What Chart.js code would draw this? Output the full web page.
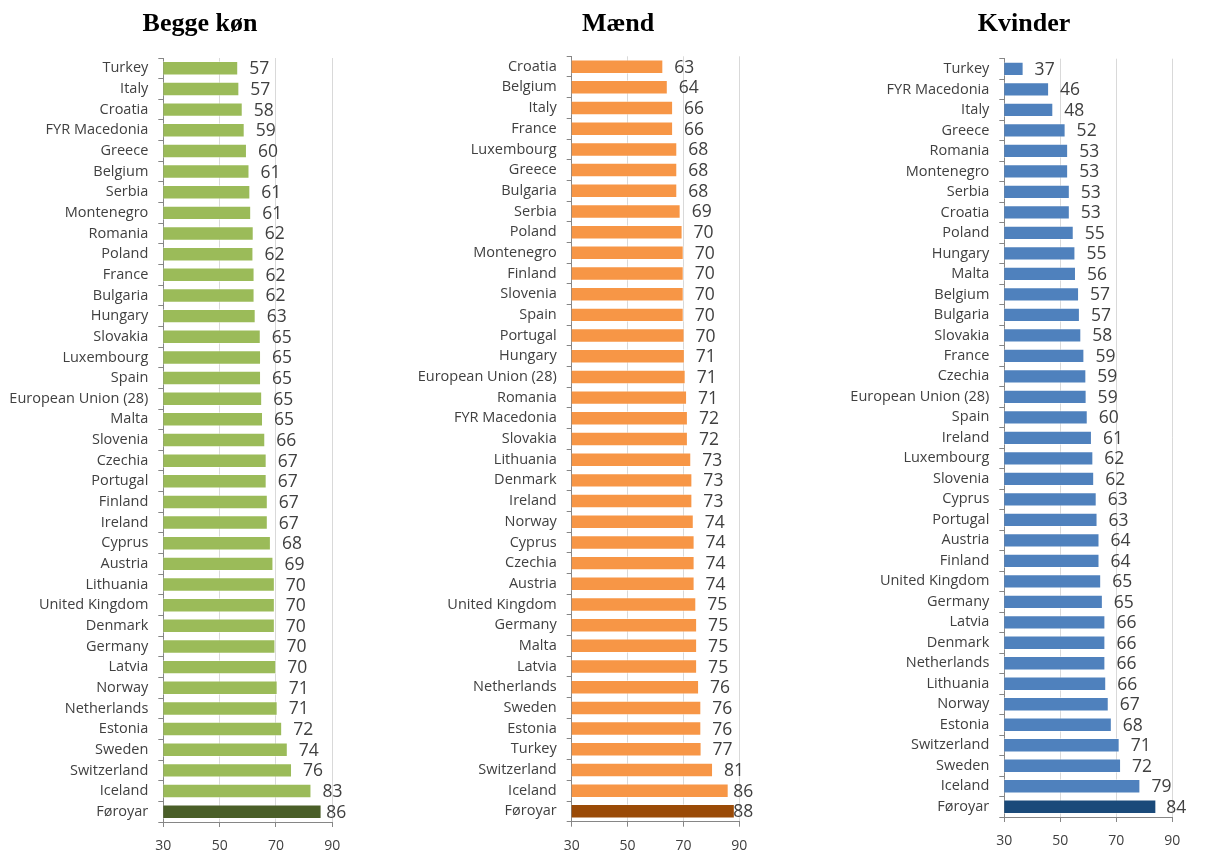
<!DOCTYPE html>
<html>
<head>
<meta charset="utf-8">
<script src="https://cdn.jsdelivr.net/npm/chart.js@4.4.1/dist/chart.umd.min.js"></script>
<style>
  body { margin: 0; background: #fff; }
  .panel { position: absolute; top: 0; height: 866px; }
  .title { position: absolute; top: 8px; width: 300px; line-height: 30px; text-align: center;
           font-family: "Liberation Serif", serif; font-weight: bold; font-size: 26px; color: #000; }
</style>
</head>
<body>
<div class="panel" style="left:0;width:400px"><canvas id="c1"></canvas></div>
<div class="panel" style="left:418px;width:400px"><canvas id="c2"></canvas></div>
<div class="panel" style="left:840px;width:368px"><canvas id="c3"></canvas></div>
<div class="title" style="left:50px">Begge køn</div>
<div class="title" style="left:468px">Mænd</div>
<div class="title" style="left:874px">Kvinder</div>
<script>
// Begge køn
const bothLabels = ["Turkey","Italy","Croatia","FYR Macedonia","Greece","Belgium","Serbia","Montenegro","Romania","Poland","France","Bulgaria","Hungary","Slovakia","Luxembourg","Spain","European Union (28)","Malta","Slovenia","Czechia","Portugal","Finland","Ireland","Cyprus","Austria","Lithuania","United Kingdom","Denmark","Germany","Latvia","Norway","Netherlands","Estonia","Sweden","Switzerland","Iceland","Føroyar"];
const bothValues = [56.6,57.0,58.2,58.9,59.7,60.6,60.9,61.2,62.1,62.0,62.4,62.4,62.8,64.6,64.7,64.7,65.1,65.4,66.2,66.7,66.7,67.1,67.1,68.2,69.1,69.6,69.6,69.6,69.8,70.1,70.6,70.6,72.2,74.2,75.7,82.6,86.2];

// Mænd
const menLabels = ["Croatia","Belgium","Italy","France","Luxembourg","Greece","Bulgaria","Serbia","Poland","Montenegro","Finland","Slovenia","Spain","Portugal","Hungary","European Union (28)","Romania","FYR Macedonia","Slovakia","Lithuania","Denmark","Ireland","Norway","Cyprus","Czechia","Austria","United Kingdom","Germany","Malta","Latvia","Netherlands","Sweden","Estonia","Turkey","Switzerland","Iceland","Føroyar"];
const menValues = [62.8,64.4,66.3,66.3,67.8,67.8,67.8,69.0,69.7,70.1,70.1,70.1,70.1,70.4,70.5,70.8,71.3,71.6,71.6,72.8,73.2,73.2,73.7,74.0,74.0,74.0,74.6,74.9,74.9,74.9,75.6,76.4,76.4,76.5,80.6,86.2,88.4];

// Kvinder
const womenLabels = ["Turkey","FYR Macedonia","Italy","Greece","Romania","Montenegro","Serbia","Croatia","Poland","Hungary","Malta","Belgium","Bulgaria","Slovakia","France","Czechia","European Union (28)","Spain","Ireland","Luxembourg","Slovenia","Cyprus","Portugal","Austria","Finland","United Kingdom","Germany","Latvia","Denmark","Netherlands","Lithuania","Norway","Estonia","Switzerland","Sweden","Iceland","Føroyar"];
const womenValues = [36.9,46.0,47.5,51.9,52.8,52.8,53.4,53.4,54.8,55.4,55.6,56.7,57.0,57.5,58.6,59.3,59.4,59.8,61.3,61.8,62.1,63.0,63.3,64.0,64.0,64.6,65.2,66.1,66.1,66.1,66.4,67.3,68.4,71.2,71.7,78.6,84.3];

const xTicks = [30, 50, 70, 90];

const valueLabels = {
  id: 'valueLabels',
  afterDatasetsDraw(chart) {
    var ctx = chart.ctx;
    var meta = chart.getDatasetMeta(0);
    var xs = chart.scales.x;
    var vals = chart.data.datasets[0].data;
    ctx.save();
    ctx.font = '17.5px "Open Sans"';
    ctx.fillStyle = '#404040';
    ctx.textBaseline = 'middle';
    meta.data.forEach((bar, i) => {
      var txt = String(Math.round(vals[i]));
      var w = ctx.measureText(txt).width;
      var x = bar.x + 11;
      // keep label inside the plot area like the original
      if (x + w > xs.right + 14) x = xs.right + 14 - w;
      ctx.fillText(txt, x, bar.y + 1);
    });
    ctx.restore();
  }
};

function makeChart(id, labels, values, color, lastColor, opts) {
  var colors = values.map((v, i) => i == values.length - 1 ? lastColor : color);
  return new Chart(id, {
    type: 'bar',
    data: {
      labels: labels,
      datasets: [{
        data: values,
        backgroundColor: colors,
        borderColor: 'rgba(255,255,255,0.45)',
        borderWidth: 1,
        borderSkipped: false,
        barPercentage: 0.7,
        categoryPercentage: 1
      }]
    },
    plugins: [valueLabels],
    options: {
      indexAxis: 'y',
      responsive: true,
      maintainAspectRatio: false,
      animation: false,
      layout: { padding: { top: opts.top, left: 0, right: opts.right, bottom: opts.bottom } },
      plugins: {
        legend: { display: false },
        tooltip: { enabled: false }
      },
      scales: {
        x: {
          min: 30,
          max: 90,
          afterBuildTicks: (scale) => { scale.ticks = xTicks.map(v => ({ value: v })); },
          afterFit: (scale) => { scale.height = 36; },
          grid: { color: '#d9d9d9', tickColor: '#868686', tickLength: 5 },
          border: { color: '#868686' },
          ticks: { color: '#404040', font: { family: 'Open Sans', size: 14 }, padding: 11 }
        },
        y: {
          afterFit: (scale) => { scale.width = opts.axisW; },
          grid: { offset: true, drawOnChartArea: false, tickColor: '#868686', tickLength: 5 },
          border: { color: '#868686' },
          ticks: { color: '#404040', font: { family: 'Open Sans', size: 14.5 }, padding: 10, autoSkip: false }
        }
      }
    }
  });
}

makeChart('c1', bothLabels, bothValues, '#9bbb59', '#4a5f28',
  { axisW: 163.3, right: 67.7, top: 58, bottom: 8 });
makeChart('c2', menLabels, menValues, '#f79646', '#9a4a06',
  { axisW: 153.7, right: 78.7, top: 56.3, bottom: 8.3 });
makeChart('c3', womenLabels, womenValues, '#4f81bd', '#1a4a7a',
  { axisW: 164.3, right: 35.7, top: 58.7, bottom: 13 });
</script>
</body>
</html>
